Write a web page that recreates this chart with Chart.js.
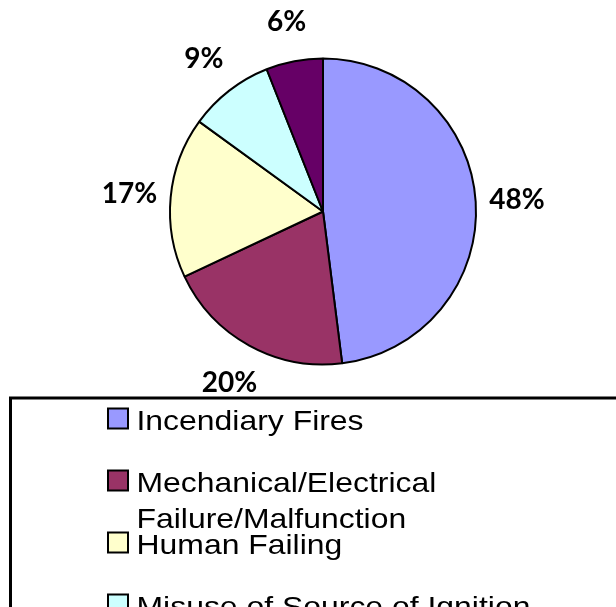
<!DOCTYPE html>
<html>
<head>
<meta charset="utf-8">
<script src="https://cdn.jsdelivr.net/npm/chart.js@4.4.1/dist/chart.umd.min.js"></script>
<style>
  body { margin: 0; background: #fff; }
  #wrap { width: 616px; height: 607px; position: relative; }
</style>
</head>
<body>
<div id="wrap"><canvas id="myChart"></canvas></div>
<script>
// données
const causes = [
  'Incendiary Fires',
  'Mechanical/Electrical Failure/Malfunction',
  'Human Failing',
  'Misuse of Source of Ignition',
  'Other'
]
const parts = [48, 20, 17, 9, 6]
const couleurs = ['#9999FF', '#993366', '#FFFFCC', '#CCFFFF', '#660066']

// étiquettes en % autour du camembert
const pourcentages = {
  id: 'pourcentages',
  afterDatasetsDraw(chart) {
    const ctx = chart.ctx
    const meta = chart.getDatasetMeta(0)
    const total = parts.reduce((a, b) => a + b, 0)
    ctx.save()
    ctx.font = 'bold 28px Lato, "Open Sans", sans-serif'
    ctx.fillStyle = '#000'
    ctx.textAlign = 'center'
    ctx.textBaseline = 'middle'
    meta.data.forEach((arc, i) => {
      const p = arc.getProps(['x', 'y', 'startAngle', 'endAngle', 'outerRadius'], true)
      const mid = (p.startAngle + p.endAngle) / 2
      const dist = p.outerRadius * 1.27
      const x = p.x + Math.cos(mid) * dist
      const y = p.y + Math.sin(mid) * dist
      ctx.fillText(Math.round(parts[i] / total * 100) + '%', x, y + 1)
    })
    ctx.restore()
  }
}

// légende encadrée (coupée en bas comme sur l'original)
const legende = {
  id: 'legende',
  afterDraw(chart) {
    const ctx = chart.ctx
    ctx.save()
    ctx.strokeStyle = '#000'
    ctx.lineWidth = 3
    ctx.strokeRect(10.5, 398, 800, 400)

    ctx.font = '28px "Liberation Sans", Arial, sans-serif'
    ctx.textBaseline = 'alphabetic'
    const etirement = 1.14 // le texte d'origine est un peu élargi
    const largeurMax = 420
    let base = 429.5
    causes.forEach((txt, i) => {
      // découpe en lignes
      const mots = txt.split(' ')
      const lignes = []
      let cur = ''
      mots.forEach(m => {
        const essai = cur ? cur + ' ' + m : m
        if (ctx.measureText(essai).width * etirement > largeurMax && cur) {
          lignes.push(cur)
          cur = m
        } else {
          cur = essai
        }
      })
      lignes.push(cur)

      ctx.fillStyle = couleurs[i]
      ctx.fillRect(108, base - 21, 20, 20)
      ctx.lineWidth = 2
      ctx.strokeStyle = '#000'
      ctx.strokeRect(108, base - 21, 20, 20)

      ctx.fillStyle = '#000'
      lignes.forEach((l, j) => {
        ctx.save()
        ctx.translate(136.5, base + j * 36.6)
        ctx.scale(etirement, 1)
        ctx.fillText(l, 0, 0)
        ctx.restore()
      })
      base += 62
    })
    ctx.restore()
  }
}

new Chart(
  document.getElementById('myChart'),
  {
    type: 'pie',
    data: {
      labels: causes,
      datasets: [
        {
          data: parts,
          backgroundColor: couleurs,
          borderColor: '#000',
          borderWidth: 2,
          hoverOffset: 0
        }
      ]
    },
    options: {
      responsive: true,
      maintainAspectRatio: false,
      animation: false,
      radius: 153,
      layout: {
        padding: { left: 30, right: 0, top: 0, bottom: 184 }
      },
      plugins: {
        legend: { display: false },
        tooltip: { enabled: false }
      }
    },
    plugins: [pourcentages, legende]
  }
)
</script>
</body>
</html>
